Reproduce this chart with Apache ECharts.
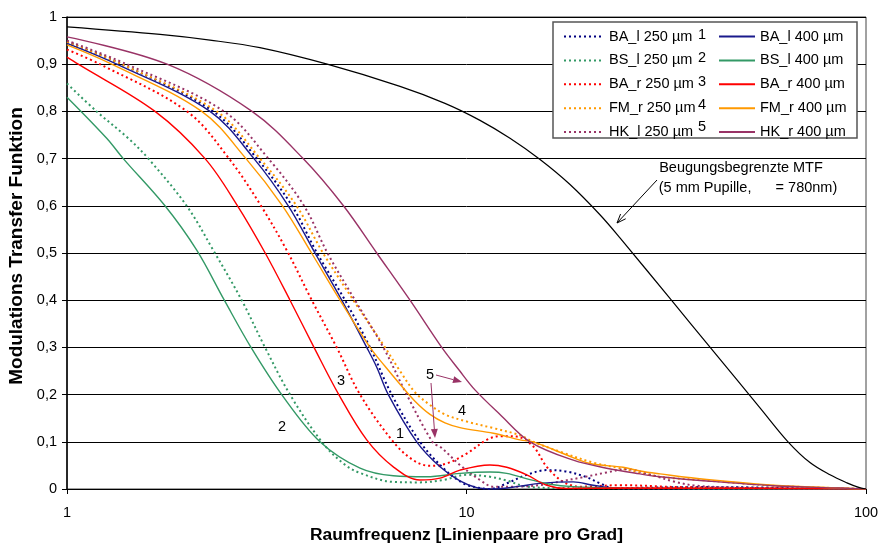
<!DOCTYPE html>
<html><head><meta charset="utf-8">
<script src="https://cdn.jsdelivr.net/npm/echarts@6/dist/echarts.min.js"></script>
<style>html,body{margin:0;padding:0;background:#fff}#c{width:881px;height:543px}</style>
</head><body><div id="c"></div><script>
// ---- data: [Raumfrequenz (lp/deg), MTF] ----
const BA_l_250 = [[1,0.947],[1.37,0.9],[2.323,0.8],[2.989,0.7],[3.658,0.6],[4.225,0.5],[4.965,0.4],[5.735,0.3],[6.498,0.2],[7.649,0.1],[8.733,0.045],[9.817,0.012],[10.81,0.002],[11.45,0.0],[12.61,0.012],[14.15,0.03],[15.88,0.04],[17.82,0.037],[19.99,0.025],[21.58,0.012],[23.31,0.002],[38.41,0.004],[100,0]];
const BS_l_250 = [[1,0.859],[1.186,0.8],[1.424,0.743],[1.598,0.7],[1.993,0.6],[2.323,0.506],[2.737,0.4],[3.131,0.3],[3.616,0.2],[4.341,0.1],[4.917,0.054],[5.414,0.034],[6.558,0.015],[7.649,0.014],[8.733,0.019],[10.01,0.03],[11.45,0.026],[12.61,0.018],[14.15,0.005],[17.15,0.002],[100,0]];
const BA_r_250 = [[1,0.931],[1.209,0.9],[1.997,0.8],[2.544,0.7],[3.059,0.6],[3.547,0.506],[4.10,0.4],[4.733,0.3],[5.414,0.2],[6.558,0.1],[7.359,0.061],[8.103,0.049],[8.922,0.054],[10.01,0.075],[11.24,0.104],[12.13,0.112],[13.36,0.111],[14.70,0.09],[15.88,0.047],[17.48,0.015],[19.24,0.005],[24.22,0.008],[34.22,0.004],[51.2,0.002],[100,0]];
const FM_r_250 = [[1,0.947],[1.3705,0.9],[2.371,0.8],[3.042,0.7],[3.754,0.6],[4.374,0.5],[5.209,0.4],[6.252,0.3],[6.816,0.25],[7.431,0.205],[8.103,0.178],[8.834,0.158],[10.01,0.143],[11.67,0.129],[13.61,0.114],[14.70,0.1],[17.15,0.079],[20.73,0.056],[24.22,0.044],[30.51,0.026],[39.93,0.018],[58.62,0.007],[100,0]];
const HK_l_250 = [[1,0.95],[1.411,0.9],[2.472,0.8],[3.192,0.7],[3.92,0.6],[4.487,0.5],[5.26,0.4],[6.192,0.3],[7.084,0.2],[8.258,0.097],[8.584,0.09],[9.63,0.051],[10.81,0.019],[11.67,0.005],[13.36,0.005],[15.88,0.01],[17.15,0.016],[19.6,0.025],[22.43,0.035],[25.18,0.042],[29.0,0.03],[33.0,0.016],[37.5,0.007],[48.0,0.003],[100,0]];
const BA_l_400 = [[1,0.944],[1.332,0.9],[2.28,0.8],[2.938,0.7],[3.58,0.6],[4.176,0.5],[4.872,0.4],[5.627,0.3],[5.961,0.258],[6.372,0.2],[7.505,0.1],[8.584,0.047],[9.63,0.017],[10.61,0.003],[11.78,0.0],[13.61,0.006],[15.28,0.012],[18.51,0.015],[20.76,0.008],[24.22,0.001],[100,0]];
const BS_l_400 = [[1,0.83],[1.257,0.743],[1.383,0.7],[1.759,0.6],[2.112,0.506],[2.476,0.4],[2.888,0.3],[3.447,0.2],[4.299,0.1],[5.414,0.044],[6.558,0.028],[7.95,0.026],[9.63,0.033],[11.45,0.036],[12.61,0.033],[14.42,0.02],[16.18,0.01],[18.51,0.005],[24.22,0.002],[38.4,0.001],[100,0]];
const BA_r_400 = [[1,0.915],[1.067,0.9],[1.661,0.8],[2.216,0.7],[2.672,0.6],[3.134,0.5],[3.616,0.4],[4.152,0.3],[4.79,0.2],[5.627,0.104],[6.558,0.047],[7.649,0.019],[8.584,0.023],[9.63,0.04],[11.45,0.051],[12.61,0.046],[14.15,0.03],[15.88,0.008],[17.82,0.001],[24.22,0.002],[100,0]];
const FM_r_400 = [[1,0.941],[1.294,0.9],[2.174,0.8],[2.806,0.7],[3.462,0.6],[4.093,0.5],[4.824,0.4],[5.735,0.3],[6.252,0.26],[6.816,0.222],[7.431,0.186],[8.103,0.158],[8.834,0.14],[9.63,0.13],[11.67,0.118],[13.61,0.104],[14.70,0.1],[17.82,0.072],[20.37,0.054],[24.65,0.046],[27.19,0.038],[30.51,0.032],[39.93,0.02],[58.62,0.008],[86.07,0.002],[100,0]];
const HK_r_400 = [[1,0.958],[1.78,0.9],[2.905,0.8],[3.9,0.7],[4.92,0.6],[5.96,0.5],[7.22,0.4],[8.67,0.3],[9.58,0.252],[10.5,0.21],[12.13,0.158],[14.42,0.1],[18.51,0.061],[22.43,0.044],[27.19,0.032],[30.51,0.026],[39.93,0.017],[58.62,0.007],[86.07,0.002],[100,0]];
const DIFFRACTION = [[1,0.979],[1.71,0.963],[2.28,0.951],[3.04,0.935],[4.48,0.9],[6.816,0.853],[8.834,0.817],[10.81,0.781],[12.85,0.743],[15.28,0.698],[18.16,0.645],[21.58,0.581],[24.22,0.532],[32.5,0.401],[40.93,0.298],[47.55,0.231],[54.28,0.172],[63.8,0.1],[72.4,0.056],[81.27,0.03],[89.6,0.013],[95.5,0.004],[100,0]];

const NAMES_250 = ['BA_l 250 µm','BS_l 250 µm','BA_r 250 µm','FM_r 250 µm','HK_l 250 µm'];
const NAMES_400 = ['BA_l 400 µm','BS_l 400 µm','BA_r 400 µm','FM_r 400 µm','HK_r 400 µm'];
const DATA_250 = [BA_l_250, BS_l_250, BA_r_250, FM_r_250, HK_l_250];
const DATA_400 = [BA_l_400, BS_l_400, BA_r_400, FM_r_400, HK_r_400];
const COLORS = ['#000080','#339966','#FF0000','#FF9900','#993366'];
const COLORS_SOLID = ['#1a1a8c','#339966','#FF0000','#FF9900','#993366'];
const Y_TICKS = ['0','0,1','0,2','0,3','0,4','0,5','0,6','0,7','0,8','0,9','1'];

const FONT = "'Liberation Sans', Arial, sans-serif";
const FS = 14.5;
const chart = echarts.init(document.getElementById('c'), null, {renderer:'canvas'});

const series = [];
DATA_250.forEach((d,i)=>series.push({name:NAMES_250[i], type:'line', data:d, smooth:0.35, symbol:'none',
  lineStyle:{color:COLORS[i], width:2, type:[2,3]}, itemStyle:{color:COLORS[i]}, z:3}));
DATA_400.forEach((d,i)=>series.push({name:NAMES_400[i], type:'line', data:d, smooth:0.35, symbol:'none',
  lineStyle:{color:COLORS_SOLID[i], width:1.4, type:'solid'}, itemStyle:{color:COLORS_SOLID[i]}, z:4}));
series.push({name:'Beugungsbegrenzte MTF', type:'line', data:DIFFRACTION, smooth:0.35, symbol:'none',
  lineStyle:{color:'#000', width:1.2}, z:5});

function arrow(x1,y1,x2,y2,color,open){
  const a=Math.atan2(y2-y1,x2-x1), L=9, W=3.5;
  const bx=x2-L*Math.cos(a), by=y2-L*Math.sin(a), px=-Math.sin(a)*W, py=Math.cos(a)*W;
  const els=[{type:'line',shape:{x1:x1,y1:y1,x2:open?x2:bx,y2:open?y2:by},style:{stroke:color,lineWidth:1},z:20}];
  if(open){
    els.push({type:'polyline',shape:{points:[[bx+px,by+py],[x2,y2],[bx-px,by-py]]},style:{stroke:color,lineWidth:1,fill:null},z:20});
  } else {
    els.push({type:'polygon',shape:{points:[[x2,y2],[bx+px,by+py],[bx-px,by-py]]},style:{fill:color},z:20});
  }
  return els;
}
function txt(x,y,t,size,align){
  return {type:'text',x:x,y:y,z:20,style:{text:t,fill:'#000',font:(size||FS)+'px '+FONT,textAlign:align||'center',textVerticalAlign:'middle'}};
}

const legendBase = {orient:'vertical', itemHeight:14, itemGap:8.9, z:10,
  itemStyle:{opacity:0},
  textStyle:{fontFamily:FONT,fontSize:FS,color:'#000',lineHeight:14}, selectedMode:false, padding:0};

chart.setOption({
  animation:false,
  backgroundColor:'#fff',
  grid:{left:67, right:15, top:17, bottom:54, show:true, backgroundColor:'transparent', borderColor:'#444', borderWidth:1,
    containLabel:false, outerBoundsMode:'none'},
  xAxis:{type:'log', logBase:10, min:1, max:100,
    name:'Raumfrequenz [Linienpaare pro Grad]', nameLocation:'middle', nameGap:37.5,
    nameTextStyle:{fontFamily:FONT, fontSize:17.4, fontWeight:'bold', color:'#000'},
    axisLine:{lineStyle:{color:'#000',width:1}}, axisTick:{show:true,length:5,lineStyle:{color:'#000'}},
    minorTick:{show:false}, splitLine:{show:false},
    axisLabel:{color:'#000', fontFamily:FONT, fontSize:FS, margin:16}},
  yAxis:{type:'value', min:0, max:1, interval:0.1,
    name:'Modulations Transfer Funktion', nameLocation:'middle', nameGap:40,
    nameTextStyle:{fontFamily:FONT, fontSize:19, fontWeight:'bold', color:'#000', padding:[0,0,0,14]},
    axisLine:{show:true,lineStyle:{color:'#000',width:1.5}}, axisTick:{show:true,length:5,lineStyle:{color:'#000'}},
    splitLine:{show:true,lineStyle:{color:'#000',width:1}},
    axisLabel:{color:'#000', fontFamily:FONT, fontSize:FS, margin:10,
      formatter:(v)=>Y_TICKS[Math.round(v*10)]}},
  legend:[
    Object.assign({}, legendBase, {left:563, top:29, itemWidth:40, data:NAMES_250}),
    Object.assign({}, legendBase, {left:718, top:29, itemWidth:36, data:NAMES_400})
  ],
  graphic:[
    {type:'rect', shape:{x:553,y:22,width:304,height:116}, style:{fill:'#fff',stroke:'#555',lineWidth:1.5}, z:5},
    txt(702,35,'1'), txt(702,58,'2'), txt(702,82,'3'), txt(702,105,'4'), txt(702,127,'5'),
    txt(741,168,'Beugungsbegrenzte MTF'), txt(748,188,'(5 mm Pupille,      = 780nm)'),
    ...arrow(657,180,617,223,'#000',true),
    txt(282,427,'2'), txt(341,381,'3'), txt(400,434,'1'), txt(462,411,'4'), txt(430,375,'5'),
    ...arrow(436,375,462,382,'#993366',false),
    ...arrow(431,383,435,438,'#993366',false)
  ],
  series:series
});
</script></body></html>
